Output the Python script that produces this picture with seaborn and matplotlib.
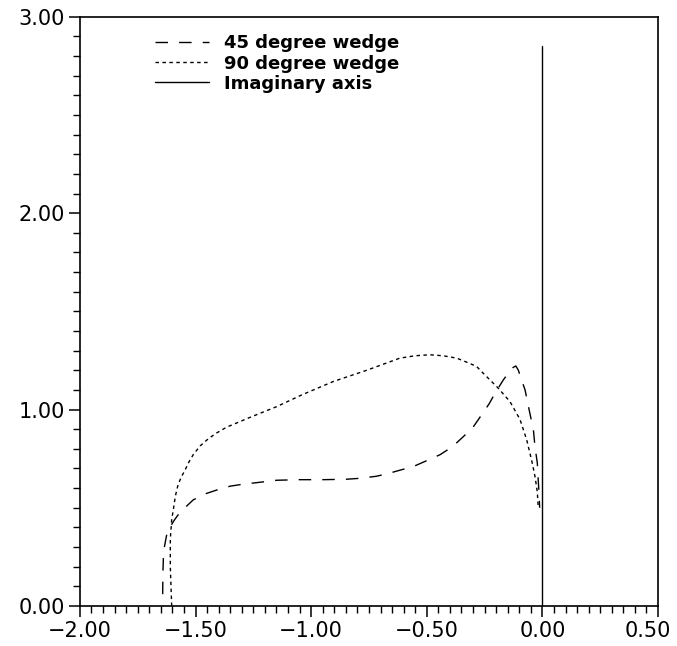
#%%
import pandas as pd
import numpy as np
import seaborn as sns
import matplotlib
matplotlib.use('Agg')
import matplotlib.pyplot as plt
import matplotlib.transforms as mtransforms
from matplotlib.ticker import MultipleLocator, FuncFormatter

# values
wedge45_x = [-1.642, -1.641, -1.638, -1.625, -1.611, -1.59, -1.565, -1.546, -1.51, -1.46,
             -1.409, -1.35, -1.294, -1.22, -1.149, -1.05, -0.95, -0.85, -0.789, -0.72,
             -0.674, -0.62, -0.558, -0.50, -0.443, -0.39, -0.342, -0.30, -0.263, -0.23,
             -0.205, -0.169, -0.145, -0.126, -0.115, -0.104, -0.09, -0.075, -0.063, -0.054,
             -0.039, -0.032, -0.022, -0.018, -0.014, -0.012]
wedge45_y = [0.06, 0.17, 0.28, 0.36, 0.40, 0.44, 0.48, 0.50, 0.54, 0.57,
             0.59, 0.61, 0.62, 0.63, 0.64, 0.643, 0.643, 0.645, 0.65, 0.66,
             0.672, 0.69, 0.71, 0.74, 0.77, 0.81, 0.862, 0.91, 0.973, 1.03,
             1.083, 1.151, 1.19, 1.215, 1.222, 1.20, 1.15, 1.10, 1.03, 0.98,
             0.897, 0.81, 0.727, 0.64, 0.56, 0.50]

wedge90_x = [-1.603, -1.606, -1.609, -1.609, -1.603, -1.596, -1.587, -1.575, -1.56, -1.546,
             -1.53, -1.51, -1.48, -1.446, -1.41, -1.366, -1.265, -1.149, -1.04, -0.904,
             -0.76, -0.616, -0.55, -0.486, -0.43, -0.371, -0.335, -0.285, -0.256, -0.191,
             -0.14, -0.097, -0.068, -0.047, -0.032, -0.022, -0.018]
wedge90_y = [0.0, 0.10, 0.20, 0.34, 0.44, 0.49, 0.56, 0.62, 0.66, 0.69,
             0.73, 0.77, 0.815, 0.85, 0.88, 0.91, 0.96, 1.015, 1.075, 1.143,
             1.20, 1.262, 1.274, 1.279, 1.274, 1.262, 1.245, 1.22, 1.185, 1.109,
             1.04, 0.95, 0.846, 0.744, 0.659, 0.58, 0.50]

imag_x = [0.0, 0.0]
imag_y = [0.0, 2.85]

labels = ['45 degree wedge', '90 degree wedge', 'Imaginary axis']

sns.set_style('ticks')
plt.rcParams['font.family'] = ['DejaVu Sans']
plt.rcParams['text.color'] = 'black'
plt.rcParams['xtick.color'] = 'black'
plt.rcParams['ytick.color'] = 'black'

fig = plt.figure(figsize=(6.77, 6.46), dpi=100)
ax = fig.add_axes([0.118, 0.062, 0.854, 0.912])

df45 = pd.DataFrame({'x': wedge45_x, 'y': wedge45_y})
df90 = pd.DataFrame({'x': wedge90_x, 'y': wedge90_y})
dfim = pd.DataFrame({'x': imag_x, 'y': imag_y})

# curves are not monotone in x near the ends -> no sorting
sns.lineplot(data=df45, x='x', y='y', sort=False, estimator=None, ax=ax,
             color='black', linewidth=1.0, label=labels[0])
sns.lineplot(data=df90, x='x', y='y', sort=False, estimator=None, ax=ax,
             color='black', linewidth=1.0, label=labels[1])
sns.lineplot(data=dfim, x='x', y='y', sort=False, estimator=None, ax=ax,
             color='black', linewidth=1.0, label=labels[2])

lines = ax.get_lines()
lines[0].set_dashes((9, 8))
lines[1].set_dashes((2.5, 2.5))

ax.set_xlim(-2.0, 0.5)
ax.set_ylim(0.0, 3.0)
ax.set_xlabel('')
ax.set_ylabel('')

fmt = FuncFormatter(lambda v, pos: f'{v:.2f}'.replace('-', '\u2212'))
ax.xaxis.set_major_locator(MultipleLocator(0.5))
ax.xaxis.set_minor_locator(MultipleLocator(0.05))
ax.yaxis.set_major_locator(MultipleLocator(1.0))
ax.yaxis.set_minor_locator(MultipleLocator(0.1))
ax.xaxis.set_major_formatter(fmt)
ax.yaxis.set_major_formatter(fmt)
ax.tick_params(which='major', length=8, width=1.1, labelsize=15, pad=3)
ax.tick_params(which='minor', length=5, width=1.0)

for s in ax.spines.values():
    s.set_visible(True)
    s.set_linewidth(1.2)
    s.set_color('black')

leg = ax.legend(loc='upper left', bbox_to_anchor=(0.13, 0.97), frameon=False,
                prop={'size': 13, 'weight': 'bold'}, handlelength=3.0, handletextpad=0.8,
                labelspacing=0.12, borderpad=0, borderaxespad=0)

# last x label sits a bit left of its tick, as in the original
fig.canvas.draw()
shift = mtransforms.ScaledTranslation(-10 / 100, 0, fig.dpi_scale_trans)
for tick in ax.xaxis.get_major_ticks():
    if abs(tick.get_loc() - 0.5) < 1e-9:
        tick.label1.set_transform(tick.label1.get_transform() + shift)

fig.savefig('out.png', dpi=100)
# %%
